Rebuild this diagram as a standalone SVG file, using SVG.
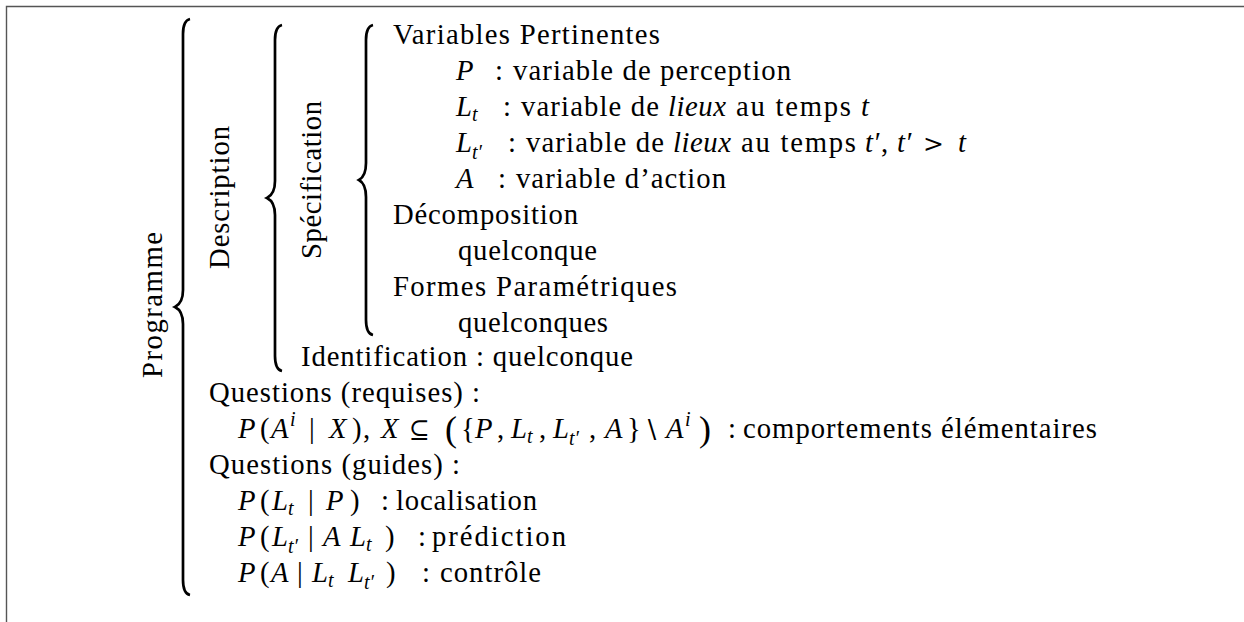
<svg xmlns="http://www.w3.org/2000/svg" width="1244" height="622" viewBox="0 0 1244 622">
<style>
text { font-family: "Liberation Serif", "DejaVu Serif", serif; font-size: 28.7px; fill: #000; }
.i { font-style: italic; }
.s { font-size: 20px; }
.bp { font-size: 36px; }
.sym { font-family: "DejaVu Serif", "Liberation Serif", serif; font-size: 25px; }
.br { fill: none; stroke: #000; stroke-width: 2.7; }
.frame { fill: none; stroke: #555; stroke-width: 1.4; }
</style>
<rect width="1244" height="622" fill="#fff"/>
<g id="frame">
  <path class="frame" d="M6.5,622 V6.5 H1244"/>
</g>
<g id="connectors">
  <path class="br" d="M190,19 C185.5,20 183,25 183,34 L183,290 C183,299 180,304.5 175,307 C180,309.5 183,315 183,324 L183,580 C183,589 185.5,594 190,595"/>
  <path class="br" d="M282,25 C277.5,26 275,31 275,40 L275,181 C275,190 272,195.5 267,198 C272,200.5 275,206 275,215 L275,356 C275,365 277.5,370 282,371"/>
  <path class="br" d="M373,25 C368.5,26 366,31 366,40 L366,163 C366,172 363.5,177.5 359,180 C363.5,182.5 366,188 366,197 L366,320 C366,329 368.5,334 373,335"/>
</g>
<g id="node-programme">
  <text transform="translate(162,305) rotate(-90)" text-anchor="middle" textLength="146" lengthAdjust="spacing">Programme</text>
</g>
<g id="node-description">
  <text transform="translate(229,197.5) rotate(-90)" text-anchor="middle" textLength="143" lengthAdjust="spacing">Description</text>
</g>
<g id="node-specification">
  <text transform="translate(321,180) rotate(-90)" text-anchor="middle" textLength="158" lengthAdjust="spacing">Spécification</text>
</g>
<g id="node-variables">
  <text x="393" y="44" textLength="267" lengthAdjust="spacing">Variables Pertinentes</text>
  <text class="i" x="456" y="80">P</text>
  <text x="495" y="80">:</text>
  <text x="513" y="80" textLength="278" lengthAdjust="spacing">variable de perception</text>
  <text class="i" x="456" y="116">L</text>
  <text class="i s" x="472" y="121">t</text>
  <text x="503" y="116">:</text>
  <text x="521" y="116" textLength="138" lengthAdjust="spacing">variable de</text>
  <text class="i" x="668" y="116" textLength="58" lengthAdjust="spacing">lieux</text>
  <text x="736" y="116" textLength="115" lengthAdjust="spacing">au temps</text>
  <text class="i" x="861" y="116">t</text>
  <text class="i" x="456" y="152">L</text>
  <text class="i s" x="472" y="159">t′</text>
  <text x="508" y="152">:</text>
  <text x="526" y="152" textLength="138" lengthAdjust="spacing">variable de</text>
  <text class="i" x="673" y="152" textLength="58" lengthAdjust="spacing">lieux</text>
  <text x="741" y="152" textLength="115" lengthAdjust="spacing">au temps</text>
  <text class="i" x="865" y="152">t′</text>
  <text x="881" y="152">,</text>
  <text class="i" x="897" y="152">t′</text>
  <text class="sym" x="923" y="152">&gt;</text>
  <text class="i" x="958" y="152">t</text>
  <text class="i" x="456" y="188">A</text>
  <text x="498" y="188">:</text>
  <text x="516" y="188" textLength="210" lengthAdjust="spacing">variable d’action</text>
</g>
<g id="node-decomposition">
  <text x="393" y="224" textLength="185" lengthAdjust="spacing">Décomposition</text>
  <text x="458" y="260" textLength="139" lengthAdjust="spacing">quelconque</text>
</g>
<g id="node-formes">
  <text x="393" y="296" textLength="284" lengthAdjust="spacing">Formes Paramétriques</text>
  <text x="458" y="332" textLength="150" lengthAdjust="spacing">quelconques</text>
</g>
<g id="node-identification">
  <text x="301" y="366" textLength="332" lengthAdjust="spacing">Identification : quelconque</text>
</g>
<g id="node-questions-requises">
  <text x="209" y="402" textLength="271" lengthAdjust="spacing">Questions (requises) :</text>
  <text class="i" x="238" y="438">P</text>
  <text x="260" y="438">(</text>
  <text class="i" x="271" y="438">A</text>
  <text class="i s" x="290" y="426">i</text>
  <text x="309" y="438">|</text>
  <text class="i" x="329" y="438">X</text>
  <text x="352" y="438">)</text>
  <text x="363" y="438">,</text>
  <text class="i" x="381" y="438">X</text>
  <text class="sym" x="409" y="438">⊆</text>
  <text class="bp" x="445" y="441">(</text>
  <text x="461" y="438">{</text>
  <text class="i" x="475" y="438">P</text>
  <text x="497" y="438">,</text>
  <text class="i" x="511" y="438">L</text>
  <text class="i s" x="527" y="443">t</text>
  <text x="539" y="438">,</text>
  <text class="i" x="553" y="438">L</text>
  <text class="i s" x="569" y="445">t′</text>
  <text x="589" y="438">,</text>
  <text class="i" x="605" y="438">A</text>
  <text x="627" y="438">}</text>
  <text class="sym" x="643" y="438">∖</text>
  <text class="i" x="666" y="438">A</text>
  <text class="i s" x="685" y="426">i</text>
  <text class="bp" x="699" y="441">)</text>
  <text x="728" y="438">:</text>
  <text x="743" y="438" textLength="354" lengthAdjust="spacing">comportements élémentaires</text>
</g>
<g id="node-questions-guides">
  <text x="209" y="474" textLength="251" lengthAdjust="spacing">Questions (guides) :</text>
  <text class="i" x="238" y="510">P</text>
  <text x="260" y="510">(</text>
  <text class="i" x="272" y="510">L</text>
  <text class="i s" x="288" y="515">t</text>
  <text x="308" y="510">|</text>
  <text class="i" x="326" y="510">P</text>
  <text x="350" y="510">)</text>
  <text x="381" y="510">:</text>
  <text x="396" y="510" textLength="141" lengthAdjust="spacing">localisation</text>
  <text class="i" x="238" y="546">P</text>
  <text x="260" y="546">(</text>
  <text class="i" x="272" y="546">L</text>
  <text class="i s" x="288" y="553">t′</text>
  <text x="308" y="546">|</text>
  <text class="i" x="323" y="546">A</text>
  <text class="i" x="350" y="546">L</text>
  <text class="i s" x="366" y="551">t</text>
  <text x="385" y="546">)</text>
  <text x="418" y="546">:</text>
  <text x="432" y="546" textLength="134" lengthAdjust="spacing">prédiction</text>
  <text class="i" x="238" y="582">P</text>
  <text x="260" y="582">(</text>
  <text class="i" x="271" y="582">A</text>
  <text x="297" y="582">|</text>
  <text class="i" x="312" y="582">L</text>
  <text class="i s" x="328" y="587">t</text>
  <text class="i" x="348" y="582">L</text>
  <text class="i s" x="364" y="589">t′</text>
  <text x="386" y="582">)</text>
  <text x="422" y="582">:</text>
  <text x="440" y="582" textLength="101" lengthAdjust="spacing">contrôle</text>
</g>
</svg>
